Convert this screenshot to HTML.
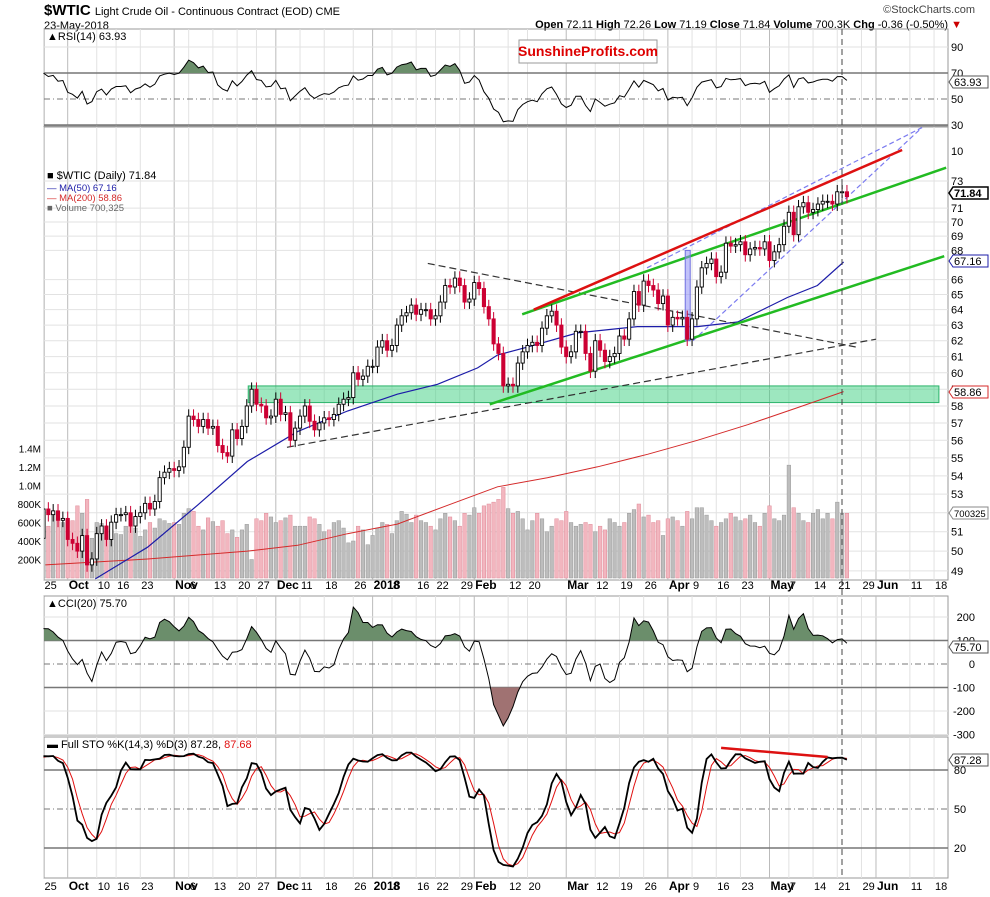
<!DOCTYPE html>
<html><head><meta charset="utf-8"><title>$WTIC Light Crude Oil</title>
<style>
html,body{margin:0;padding:0;background:#fff;}
svg{display:block;font-family:"Liberation Sans Narrow","Liberation Sans",sans-serif;}
</style></head>
<body>
<svg id="chart" width="990" height="897" viewBox="0 0 990 897" xmlns="http://www.w3.org/2000/svg">
  <rect x="0" y="0" width="990" height="897" fill="#fff"/>
  <g>
    <text x="44" y="15" font-size="15" font-weight="bold" fill="#000">$WTIC <tspan font-size="11" font-weight="normal">Light Crude Oil - Continuous Contract (EOD) CME</tspan></text>
    <text x="44" y="29" font-size="11" fill="#000">23-May-2018</text>
    <text x="975" y="13" font-size="11" fill="#444" text-anchor="end">©StockCharts.com</text>
    <text x="962" y="28" font-size="11" fill="#000" text-anchor="end"><tspan font-weight="bold">Open</tspan> 72.11 <tspan font-weight="bold">High</tspan> 72.26 <tspan font-weight="bold">Low</tspan> 71.19 <tspan font-weight="bold">Close</tspan> 71.84 <tspan font-weight="bold">Volume</tspan> 700.3K <tspan font-weight="bold">Chg</tspan> -0.36 (-0.50%) <tspan fill="#c00">▼</tspan></text>
  </g>
  <g id="grid"></g>
  <g id="plots"></g>
  <g>
    <rect x="519" y="40" width="138" height="23" fill="#fff" stroke="#999"/>
    <text x="588" y="56" font-size="14" font-weight="bold" fill="#d00" text-anchor="middle">SunshineProfits.com</text>
  </g>
</svg>
<script>
// ---------- DATA ----------
const priorCloses = [47.59,46.78,47.09,46.78,47.09,47.37,47.64,48.41,47.41,47.87,46.57,46.44,45.96,47.23,47.29,
48.66,49.16,49.09,47.48,48.07,48.23,49.30,49.89,49.89,49.91,49.48,50.69,50.55,50.66];
const closes = [
52.2,51.9,52.1,51.6,51.7,
50.6,50.4,50.0,50.8,49.3,49.6,50.9,51.3,50.6,51.5,51.9,51.9,52.0,51.3,51.8,52.0,52.5,52.2,52.6,53.9,54.2,54.4,
54.3,54.5,55.6,57.4,57.2,56.8,57.2,56.7,56.8,55.7,55.3,55.1,56.6,56.1,56.8,58.0,59.0,58.1,58.0,57.3,57.4,
58.4,57.5,57.6,56.0,56.7,57.4,58.0,57.1,56.6,57.0,57.3,57.2,57.5,58.1,58.4,58.5,60.0,59.6,59.8,60.4,
60.4,61.6,62.0,61.4,61.7,63.0,63.6,63.8,64.3,63.7,64.0,64.0,63.4,63.6,64.5,65.6,65.5,66.1,65.6,64.5,64.7,
65.8,65.4,64.2,63.4,61.8,61.2,59.2,59.3,59.2,60.6,61.3,61.7,61.9,61.7,62.8,63.6,63.9,63.0,61.6,
61.0,61.3,62.6,62.6,61.2,60.1,62.0,61.4,60.7,61.0,61.2,62.3,62.1,63.4,65.2,64.3,65.9,65.6,65.3,64.4,64.9,
63.0,63.5,63.4,63.5,62.1,63.4,65.5,66.8,67.1,67.4,66.2,66.5,68.5,68.3,68.4,68.6,67.7,68.1,68.2,68.1,68.6,
67.3,67.9,68.4,69.7,70.7,69.1,71.1,71.4,70.7,70.9,71.3,71.5,71.5,71.3,72.2,72.2,71.84];
const volumesK = [
520,560,700,650,600,
640,620,780,700,850,430,600,590,560,520,480,470,560,560,540,450,520,600,540,640,620,590,
600,580,700,750,720,560,520,650,610,560,620,480,520,440,520,580,200,640,620,700,660,
600,620,650,680,560,560,560,660,640,580,500,520,600,620,540,380,400,560,520,360,
460,540,600,580,480,620,720,690,600,680,620,600,560,520,640,700,660,620,560,700,680,
760,700,780,800,820,850,980,750,700,720,640,520,620,700,640,500,560,640,620,
720,600,560,580,600,580,500,560,520,640,600,560,600,700,740,800,660,680,600,620,460,
640,660,620,560,720,640,760,760,680,620,560,600,640,700,660,620,640,680,600,560,700,
780,640,620,680,1220,760,700,620,600,700,740,640,700,640,820,700,700];
const ma50Pts = [[10.7,48.6],[21.5,50.2],[31.8,52.4],[42.1,54.8],[52.5,56.5],[62.8,57.7],[73.1,58.7],[81.4,59.3],[89.7,60.3],[93.8,61.1],[100,61.6],[110.3,62.5],[122.7,62.9],[135.1,62.9],[143.4,63.2],[153.7,64.8],[159.9,65.6],[165.3,67.2]];
const ma200Pts = [[0.4,49.3],[21.5,49.6],[42.1,50.0],[52.5,50.3],[62.8,50.9],[73.1,51.4],[83.5,52.4],[93.8,53.4],[104.1,53.9],[114.5,54.5],[124.8,55.2],[135.1,56.0],[145.5,56.9],[155.8,57.9],[165.3,58.86]];
const xTickLabels = ["25","Oct","10","16","23","Nov","6","13","20","27","Dec","11","18","26","2018","8","16","22","29","Feb","12","20","Mar","12","19","26","Apr","9","16","23","May","7","14","21","29","Jun","11","18"];
const xTickIdx = [0,5,11,15,20,27,30,35,40,44,48,53,58,64,68,72,77,81,86,89,96,100,108,114,119,124,129,134,139,144,150,154,159,164,169,172,179,184];
const priceTicks = [73,71,70,69,68,66,65,64,63,62,61,60,59,58,57,56,55,54,53,52,51,50,49];
const volTicksK = [1400,1200,1000,800,600,400,200];
const volTickLabels = ["1.4M","1.2M","1.0M","800K","600K","400K","200K"];
const rsiTicks = [90,70,50,30];
const cciTicks = [200,100,0,-100,-200,-300];
const stoTicks = [80,50,20];
// annotation lines [idx, price]
const redChannel = [[101.3,64.0],[177.4,75.35]];
const greenUpper = [[98.9,63.7],[186.5,74.0]];
const greenLower = [[92.2,58.1],[186.1,67.6]];
const blackDesc = [[79.4,67.1],[167.9,61.6]];
const blackAsc = [[50.3,55.6],[172,62.1]];
const blueUpper = [[124.7,66.8],[181.5,77.1]];
const blueLower = [[134.2,62.0],[181.5,77.1]];
const supportZone = [42.3,185,58.2,59.2];

// ---------- AXES ----------
const L = 44, R = 948;
const X = i => 43.5 + i * 4.84;
const PY = p => 181 + 978 * Math.log(73 / p);
const VY = v => 578 - v * 0.0925;
const RSIY = v => 125 - (v - 30) * 1.3;
const CCIY = v => 664 - v * 0.235;
const STOY = v => 874 - v * 1.3;
const panels = {rsi:[29,126], main:[127,580], cci:[596,735], sto:[737,878]};

const NS = "http://www.w3.org/2000/svg";
const grid = document.getElementById("grid");
const plots = document.getElementById("plots");
function mk(tag, attrs, parent) {
  const e = document.createElementNS(NS, tag);
  for (const k in attrs) e.setAttribute(k, attrs[k]);
  (parent || plots).appendChild(e);
  return e;
}
function txt(x, y, s, attrs, parent) {
  const t = mk("text", Object.assign({x:x, y:y, "font-size":11, fill:"#000"}, attrs || {}), parent);
  t.textContent = s;
  return t;
}

// derived OHLC (full history incl. warmup)
const P = priorCloses.length;
const all = priorCloses.concat(closes);
const N = all.length;
const allOpen = all.map((c, i) => i === 0 ? c : all[i - 1]);
const allHigh = all.map((c, i) => Math.max(c, allOpen[i]) * 1.007);
const allLow = all.map((c, i) => Math.min(c, allOpen[i]) * 0.993);
const n = closes.length;
const opens = allOpen.slice(P), highs = allHigh.slice(P), lows = allLow.slice(P);

// ---------- GRID ----------
Object.keys(panels).forEach(k => {
  const [t, b] = panels[k];
  const r = mk("rect", {x:L, y:t, width:R - L, height:b - t, fill:"none", stroke:"#999"}, grid);
  
  
});
xTickIdx.forEach((ix, j) => {
  const isMonth = isNaN(+xTickLabels[j]) || xTickLabels[j] === "2018";
  Object.keys(panels).forEach(k => {
    const [t, b] = panels[k];
    const ln = mk("line", {x1:X(ix), x2:X(ix), y1:t, y2:b, stroke:isMonth ? "#bbb" : "#e2e2e2"}, grid);
    
    
  });
  [589, 890].forEach(yy => {
    const t = txt(X(ix) + 1, yy, xTickLabels[j], {"font-size": isMonth ? 12 : 11, "font-weight": isMonth ? "bold" : "normal"}, grid);
    
    
  });
});
priceTicks.forEach(p => {
  const ln = mk("line", {x1:L, x2:R, y1:PY(p), y2:PY(p), stroke:"#e2e2e2"}, grid);
  
  
  const t = txt(951, PY(p) + 4, String(p), {}, grid);
  
  
});
const t10 = txt(951, 155, "10", {}, grid);


volTicksK.forEach((v, j) => {
  const t = txt(41, VY(v) + 4, volTickLabels[j], {"text-anchor":"end", "font-size":10}, grid);
  
  
});
rsiTicks.forEach(v => {
  const strong = v === 70 || v === 30;
  const ln = mk("line", {x1:L, x2:R, y1:RSIY(v), y2:RSIY(v), stroke:strong ? "#777" : (v === 50 ? "#777" : "#e2e2e2"), "stroke-dasharray": v === 50 ? "6,3,1,3" : "none", "stroke-width": strong ? 1.5 : 1}, grid);
  
  
  const t = txt(951, RSIY(v) + 4, String(v), {}, grid);
  
  
});
cciTicks.forEach(v => {
  const strong = v === 100 || v === -100;
  const ln = mk("line", {x1:L, x2:R, y1:CCIY(v), y2:CCIY(v), stroke:(strong || v === 0) ? "#777" : "#e2e2e2", "stroke-dasharray": v === 0 ? "6,3,1,3" : "none", "stroke-width": strong ? 1.5 : 1}, grid);
  
  
  const t = txt(975, CCIY(v) + 4, String(v), {"text-anchor":"end"}, grid);
  
  
});
stoTicks.forEach(v => {
  const ln = mk("line", {x1:L, x2:R, y1:STOY(v), y2:STOY(v), stroke:"#777", "stroke-dasharray": v === 50 ? "6,3,1,3" : "none", "stroke-width": v === 50 ? 1 : 1.5}, grid);
  
  
  const t = txt(960, STOY(v) + 4, String(v), {"text-anchor":"middle"}, grid);
  
  
});

// ---------- MAIN PANEL ----------
const clipMain = mk("clipPath", {id:"clipMain"});
mk("rect", {x:L, y:127, width:R - L, height:453}, clipMain);
const mainG = mk("g", {"clip-path":"url(#clipMain)"});



const zone = mk("rect", {x:X(supportZone[0]), y:PY(supportZone[3]), width:X(supportZone[1]) - X(supportZone[0]), height:PY(supportZone[2]) - PY(supportZone[3]), fill:"#3ccf7f", "fill-opacity":0.5, stroke:"#2bb36a"}, mainG);



closes.forEach((c, i) => {
  const prev = i === 0 ? priorCloses[P - 1] : closes[i - 1];
  const up = c >= prev;
  const b = mk("rect", {x:X(i) - 1.8, y:VY(volumesK[i]), width:3.6, height:578 - VY(volumesK[i]), fill:up ? "#bdbdbd" : "#f2b6bf", stroke:up ? "#999" : "#e08a98", "stroke-width":0.5}, mainG);
  
  
});

function polyPts(pts, yf) { return pts.map(p => X(p[0]).toFixed(1) + "," + yf(p[1]).toFixed(1)).join(" "); }
const ma200 = mk("polyline", {points:polyPts(ma200Pts, PY), fill:"none", stroke:"#d42a2a", "stroke-width":1}, mainG);


const ma50 = mk("polyline", {points:polyPts(ma50Pts, PY), fill:"none", stroke:"#1c1ca8", "stroke-width":1.2}, mainG);



function seg(pts, color, w, dash, name) {
  const l = mk("line", {x1:X(pts[0][0]), y1:PY(pts[0][1]), x2:X(pts[1][0]), y2:PY(pts[1][1]), stroke:color, "stroke-width":w, "stroke-dasharray":dash}, mainG);
  
  
}
seg(blackDesc, "#333", 1.2, "7,4", "descending-dashed-trendline");
seg(blackAsc, "#333", 1.2, "7,4", "ascending-dashed-trendline");
seg(blueUpper, "#7b7bf0", 1.2, "5,3", "blue-dashed-upper-line");
seg(blueLower, "#7b7bf0", 1.2, "5,3", "blue-dashed-lower-line");
seg(greenUpper, "#22bb22", 2.5, "none", "green-channel-upper");
seg(greenLower, "#22bb22", 2.5, "none", "green-channel-lower");
seg(redChannel, "#dd1111", 2.5, "none", "red-resistance-line");
const blueRect = mk("rect", {x:X(133) - 2, y:PY(68.0), width:5, height:PY(62.0) - PY(68.0), fill:"#8f8ff5", "fill-opacity":0.55, stroke:"#7070e0"}, mainG);



closes.forEach((c, i) => {
  const o = opens[i], up = c >= o;
  const col = up ? "#000" : "#cc0033";
  const w = mk("line", {x1:X(i), x2:X(i), y1:PY(highs[i]), y2:PY(lows[i]), stroke:col, "stroke-width":1}, mainG);
  
  
  const top = PY(Math.max(o, c)), bot = PY(Math.min(o, c));
  const b = mk("rect", {x:X(i) - 1.6, y:top, width:3.2, height:Math.max(1, bot - top), fill:up ? "#fff" : "#cc0033", stroke:col, "stroke-width":0.9}, mainG);
  
  
});

const lg = [["■ $WTIC (Daily) 71.84", "#000", 179], ["— MA(50) 67.16", "#1c1ca8", 191], ["— MA(200) 58.86", "#d42a2a", 201], ["■ Volume 700,325", "#666", 211]];
lg.forEach(e => {
  const t = txt(47, e[2], e[0], {"font-size":e[2] === 179 ? 11 : 9.5, fill:e[1]});
  
  
});

// ---------- INDICATORS (computed on full history, drawn for visible range) ----------
const rsiAll = new Array(N).fill(null);
let ag = 0, al = 0;
for (let i = 1; i < N; i++) {
  const d = all[i] - all[i - 1];
  const g = Math.max(d, 0), l = Math.max(-d, 0);
  if (i <= 14) { ag = (ag * (i - 1) + g) / i; al = (al * (i - 1) + l) / i; }
  else { ag = (ag * 13 + g) / 14; al = (al * 13 + l) / 14; }
  rsiAll[i] = al === 0 ? 100 : 100 - 100 / (1 + ag / al);
}
const tp = all.map((c, i) => (allHigh[i] + allLow[i] + c) / 3);
const cciAll = tp.map((v, i) => {
  const win = tp.slice(Math.max(0, i - 19), i + 1);
  const m = win.reduce((a, b) => a + b, 0) / win.length;
  const md = win.reduce((a, b) => a + Math.abs(b - m), 0) / win.length;
  return md === 0 ? 0 : (v - m) / (0.015 * md);
});
const raw = all.map((c, i) => {
  const s = Math.max(0, i - 13);
  const hh = Math.max(...allHigh.slice(s, i + 1)), ll = Math.min(...allLow.slice(s, i + 1));
  return hh === ll ? 50 : (c - ll) / (hh - ll) * 100;
});
const sma = (arr, k) => arr.map((v, i) => { const w = arr.slice(Math.max(0, i - k + 1), i + 1); return w.reduce((a, b) => a + b, 0) / w.length; });
const pkAll = sma(raw, 3), pdAll = sma(pkAll, 3);
const vis = arr => arr.slice(P).map((v, i) => [i, v]);
const rsi = vis(rsiAll), cci = vis(cciAll), kS = vis(pkAll), dS = vis(pdAll);

function filled(series, yf, thr, above, color, name, panel) {
  const cid = "clip" + name;
  const cp = mk("clipPath", {id:cid});
  const ty = yf(thr);
  if (above) mk("rect", {x:L, y:panel[0], width:R - L, height:ty - panel[0]}, cp);
  else mk("rect", {x:L, y:ty, width:R - L, height:panel[1] - ty}, cp);
  const pts = series.map(p => X(p[0]).toFixed(1) + "," + yf(p[1]).toFixed(1));
  const poly = X(series[0][0]).toFixed(1) + "," + ty + " " + pts.join(" ") + " " + X(series[series.length - 1][0]).toFixed(1) + "," + ty;
  const a = mk("polygon", {points:poly, fill:color, "clip-path":"url(#" + cid + ")"});
  
  
}
function line(series, yf, color, w, name) {
  const l = mk("polyline", {points:series.map(p => X(p[0]).toFixed(1) + "," + yf(p[1]).toFixed(1)).join(" "), fill:"none", stroke:color, "stroke-width":w});
  
  
}
filled(rsi, RSIY, 70, true, "#6b8e6b", "rsi-overbought-fill", panels.rsi);
line(rsi, RSIY, "#000", 1, "rsi-line");
filled(cci, CCIY, 100, true, "#6b8e6b", "cci-high-fill", panels.cci);
filled(cci, CCIY, -100, false, "#a07272", "cci-low-fill", panels.cci);
line(cci, CCIY, "#000", 1, "cci-line");
line(dS, STOY, "#e01010", 1, "sto-d-line");
line(kS, STOY, "#000", 1.8, "sto-k-line");
const div = mk("line", {x1:X(140), y1:STOY(97), x2:X(162), y2:STOY(90), stroke:"#dd1111", "stroke-width":2.5});



[["▲RSI(14) 63.93", 40], ["▲CCI(20) 75.70", 607]].forEach(e => {
  const t = txt(47, e[1], e[0], {"font-size":11});
  
  
});
const st = txt(47, 748, "", {"font-size":11});


st.innerHTML = '▬ Full STO %K(14,3) %D(3) 87.28, <tspan fill="#e01010">87.68</tspan>';

const vd = mk("line", {x1:842, x2:842, y1:29, y2:878, stroke:"#444", "stroke-dasharray":"6,4", "stroke-width":1});



function tag(y, label, color, bold, name) {
  const g = mk("g", {});
  
  
  mk("polygon", {points:`949,${y} 953,${y - 6} 988,${y - 6} 988,${y + 6} 953,${y + 6}`, fill:"#fff", stroke:color, "stroke-width":bold ? 1.5 : 1}, g);
  txt(954, y + 4, label, {"font-size":label.length > 5 ? 9.5 : 11, "font-weight":bold ? "bold" : "normal"}, g);
}
tag(193, "71.84", "#000", true, "last-price-tag");
tag(261, "67.16", "#1c1ca8", false, "ma50-tag");
tag(392, "58.86", "#d42a2a", false, "ma200-tag");
tag(513, "700325", "#888", false, "volume-tag");
tag(82, "63.93", "#555", false, "rsi-tag");
tag(647, "75.70", "#555", false, "cci-tag");
tag(760, "87.28", "#555", false, "sto-tag");
</script>
</body></html>
